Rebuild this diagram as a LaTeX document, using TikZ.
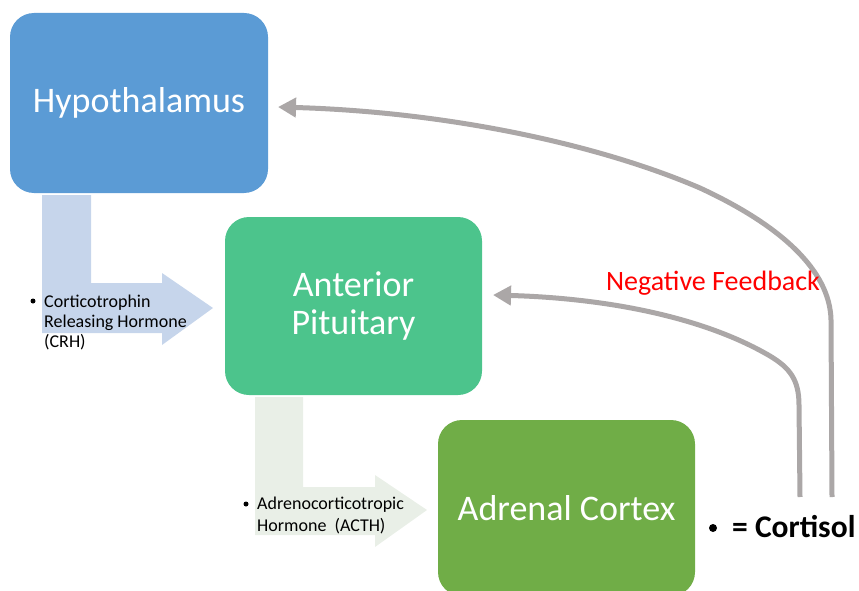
\documentclass[tikz,border=0pt]{standalone}
\usepackage{fontspec}
\setmainfont{Carlito}
\usetikzlibrary{arrows.meta}
\definecolor{hypoblue}{HTML}{5B9BD5}
\definecolor{pitgreen}{HTML}{4CC48C}
\definecolor{adrgreen}{HTML}{70AD47}
\definecolor{crhfill}{HTML}{C6D5EB}
\definecolor{acthfill}{HTML}{E9EFE7}
\definecolor{loopgray}{HTML}{ABA7A7}
\definecolor{fbred}{HTML}{FF0000}
\begin{document}
\begin{tikzpicture}[x=1pt,y=-1pt,
  organ/.style={fill=#1, rounded corners=24pt, text=white, align=center,
    font=\fontsize{36}{38}\selectfont, inner sep=0pt},
  hormone/.style={anchor=west, align=left, inner sep=0pt,
    font=\fontsize{18}{20}\selectfont},
  dotmark/.style={circle, fill=black, inner sep=0pt, minimum size=#1},
  feedback/.style={draw=loopgray, line width=5pt,
    -{Triangle[length=18pt,width=19pt]}}]
\useasboundingbox (0,0) rectangle (859,591);
\clip (0,0) rectangle (859,591);

% hormone block arrows (behind the organ boxes)
\fill[crhfill] (42,195) -- (91,195) -- (91,283) -- (162,283) -- (162,273)
  -- (213,308) -- (162,345) -- (162,333) -- (42,333) -- cycle;
\fill[acthfill] (255,397) -- (303,397) -- (303,487) -- (375,487) -- (375,475)
  -- (427,510) -- (375,547) -- (375,535) -- (255,535) -- cycle;

% organs
\node[organ=hypoblue, minimum width=258pt, minimum height=180pt]
  (hypo) at (139,103) {Hypothalamus};
\node[organ=pitgreen, minimum width=257pt, minimum height=178pt]
  (pit) at (353.5,306) {Anterior\\[0pt]Pituitary};
\node[organ=adrgreen, minimum width=257pt, minimum height=176pt]
  (adr) at (566.5,508) {Adrenal Cortex};

% hormone labels
\node[dotmark=5pt] (crhdot) at (33,301) {};
\node[hormone] (crh) at (44,322) {Corticotrophin\\Releasing Hormone\\(CRH)};
\node[dotmark=5pt] (acthdot) at (246,504) {};
\node[hormone, font=\fontsize{18}{22}\selectfont] (acth) at (257,515)
  {Adrenocorticotropic\\Hormone\ \ (ACTH)};

% cortisol key
\node[dotmark=8pt] (cortdot) at (713,528) {};
\node[anchor=west, inner sep=0pt, font=\fontsize{31.5}{33}\selectfont\bfseries]
  (cort) at (732,527) {= Cortisol};

% negative feedback loops
\coordinate (outerstart) at (832,497);
\coordinate (innerstart) at (800,497);
\coordinate (hypoin) at (278,107);
\coordinate (pitin) at (493,295);
\draw[feedback] (outerstart) -- (831,320) .. controls (830,270) and (780,225)
  .. (700,188) .. controls (600,145) and (450,112) .. (hypoin);
\draw[feedback] (innerstart) -- (799,405) .. controls (799,380) and (790,368)
  .. (770,356) .. controls (700,315) and (600,298) .. (pitin);
\node[text=fbred, inner sep=0pt, font=\fontsize{28}{30}\selectfont]
  (fblabel) at (713,283) {Negative Feedback};
\end{tikzpicture}
\end{document}
